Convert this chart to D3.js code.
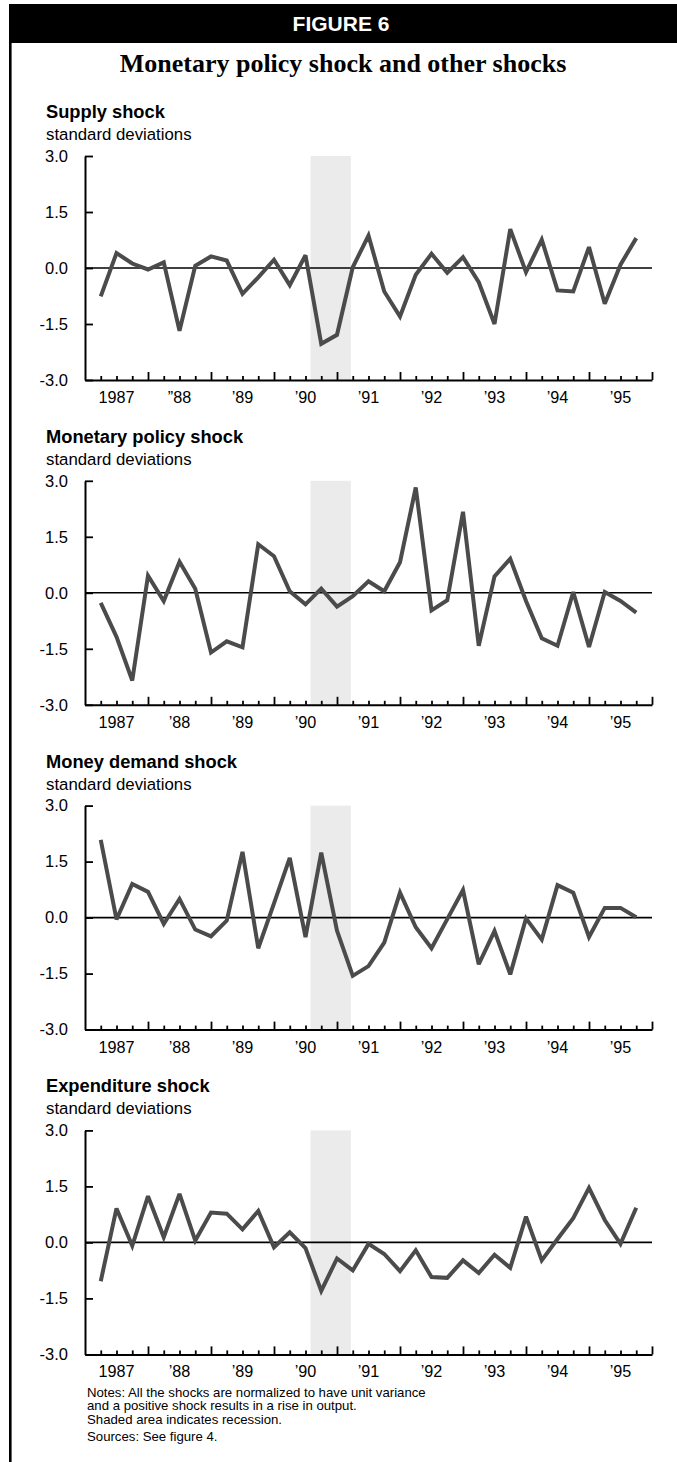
<!DOCTYPE html>
<html>
<head>
<meta charset="utf-8">
<script src="https://cdn.jsdelivr.net/npm/d3@7"></script>
<style>
  html, body { margin: 0; padding: 0; background: #fff; }
  svg { display: block; }
</style>
</head>
<body>
<svg id="chart" width="677" height="1462"></svg>
<script>
// Quarterly shocks, 1987:Q1 - 1995:Q3, in standard deviations
const startYear = 1987;
const nQuarters = 35;

const supplyShock = [-0.76, 0.40, 0.12, -0.04, 0.15, -1.68, 0.06, 0.31, 0.20, -0.69,
  -0.25, 0.22, -0.46, 0.34, -2.03, -1.79, 0.02, 0.87, -0.63, -1.30,
  -0.18, 0.38, -0.13, 0.29, -0.38, -1.50, 1.04, -0.11, 0.76, -0.60,
  -0.63, 0.56, -0.96, 0.09, 0.80];

const monetaryShock = [-0.27, -1.18, -2.35, 0.46, -0.22, 0.83, 0.11, -1.60, -1.30, -1.46,
  1.30, 0.98, 0.04, -0.31, 0.11, -0.37, -0.09, 0.31, 0.04, 0.82,
  2.82, -0.47, -0.20, 2.17, -1.42, 0.44, 0.91, -0.22, -1.22, -1.42,
  0.02, -1.45, 0.02, -0.22, -0.53];

const moneyDemandShock = [2.08, -0.05, 0.90, 0.69, -0.17, 0.50, -0.32, -0.50, -0.08, 1.76,
  -0.82, 0.38, 1.60, -0.52, 1.74, -0.35, -1.56, -1.30, -0.67, 0.67,
  -0.26, -0.82, -0.04, 0.74, -1.25, -0.36, -1.52, -0.02, -0.59, 0.87,
  0.67, -0.52, 0.26, 0.26, 0.01];

const expenditureShock = [-1.04, 0.91, -0.09, 1.24, 0.14, 1.30, 0.05, 0.80, 0.77, 0.35,
  0.84, -0.13, 0.27, -0.15, -1.30, -0.43, -0.75, -0.04, -0.31, -0.77,
  -0.21, -0.93, -0.95, -0.48, -0.82, -0.33, -0.68, 0.69, -0.48, 0.09,
  0.65, 1.46, 0.60, -0.04, 0.93];

const panelTitles = ["Supply shock", "Monetary policy shock", "Money demand shock", "Expenditure shock"];
const panelSeries = [supplyShock, monetaryShock, moneyDemandShock, expenditureShock];
const unitLabel = "standard deviations";

const yTicks = [3.0, 1.5, 0.0, -1.5, -3.0];
const years = [1987, 1988, 1989, 1990, 1991, 1992, 1993, 1994, 1995];
const yearLabels = ["1987", "\u201988", "\u201989", "\u201990", "\u201991", "\u201992", "\u201993", "\u201994", "\u201995"];
const yearLabelsFirstPanel = ["1987", "\u201D88", "\u201989", "\u201990", "\u201991", "\u201992", "\u201993", "\u201994", "\u201995"];

// NBER recession, July 1990 - March 1991
const recession = [1990.58, 1991.22];

const figureLabel = "FIGURE 6";
const figureTitle = "Monetary policy shock and other shocks";
const notes = [
  "Notes: All the shocks are normalized to have unit variance",
  "and a positive shock results in a rise in output.",
  "Shaded area indicates recession."
];
const sources = "Sources: See figure 4.";

// ---------------------------------------------------------------
const svg = d3.select("#chart");
const SANS = "'Liberation Sans', Arial, Helvetica, sans-serif";
const SERIF = "'Liberation Serif', 'Times New Roman', serif";
const LINE_COLOR = "#4b4b4b";

// frame: header band and left rule
svg.append("rect").attr("x", 9).attr("y", 4).attr("width", 668).attr("height", 39).attr("fill", "#000");
svg.append("rect").attr("x", 9).attr("y", 4).attr("width", 2.6).attr("height", 1458).attr("fill", "#000");

svg.append("text")
  .attr("x", 341).attr("y", 31)
  .attr("text-anchor", "middle")
  .attr("fill", "#fff")
  .style("font-family", SANS).style("font-weight", "bold").style("font-size", "21px")
  .text(figureLabel);

svg.append("text")
  .attr("x", 343).attr("y", 72)
  .attr("text-anchor", "middle")
  .attr("fill", "#000")
  .style("font-family", SERIF).style("font-weight", "bold").style("font-size", "26px")
  .text(figureTitle);

const x = d3.scaleLinear().domain([1987, 1996]).range([85, 652]);
const quarterPos = d3.range(1, nQuarters + 1).map(i => startYear + i * 0.25);

const panelTop = [156, 480.8, 805.6, 1130.4];
const plotH = 224;

panelSeries.forEach((series, k) => {
  const top = panelTop[k];
  const bottom = top + plotH;
  const y = d3.scaleLinear().domain([-3, 3]).range([bottom, top]);
  const g = svg.append("g");

  // titles
  g.append("text")
    .attr("x", 46).attr("y", top - 38)
    .style("font-family", SANS).style("font-weight", "bold").style("font-size", "18.3px")
    .attr("fill", "#000")
    .text(panelTitles[k]);
  g.append("text")
    .attr("x", 46).attr("y", top - 16)
    .style("font-family", SANS).style("font-size", "16.8px")
    .attr("fill", "#000")
    .text(unitLabel);

  // recession shading
  g.append("rect")
    .attr("x", x(recession[0]))
    .attr("y", top)
    .attr("width", x(recession[1]) - x(recession[0]))
    .attr("height", plotH)
    .attr("fill", "#ebebeb");

  // y axis: ticks drawn inward
  const yAxis = d3.axisLeft(y).tickValues(yTicks).tickSizeInner(-8).tickSizeOuter(0)
    .tickFormat(d3.format(".1f")).tickPadding(17);
  const ya = g.append("g").attr("transform", `translate(${x(1987)},0)`).call(yAxis);
  ya.select(".domain").attr("stroke", "#000").attr("stroke-width", 2);
  ya.selectAll(".tick line").attr("stroke", "#000").attr("stroke-width", 1.8);
  ya.selectAll(".tick text")
    .style("font-family", SANS).style("font-size", "16.5px").attr("fill", "#000")
    .text(d => d3.format(".1f")(d).replace("\u2212", "-"));

  // zero line
  g.append("line")
    .attr("x1", x(1987)).attr("x2", x(1996))
    .attr("y1", y(0)).attr("y2", y(0))
    .attr("stroke", "#000").attr("stroke-width", 1.6);

  // x axis: quarterly minor ticks, yearly major ticks, labels mid-year
  const minor = d3.axisTop(x).tickValues(d3.range(1987.25, 1996, 0.25).filter(v => Math.abs(v - Math.round(v)) > 1e-6))
    .tickSize(4).tickFormat("");
  const major = d3.axisTop(x).tickValues(d3.range(1988, 1997, 1)).tickSize(8).tickSizeOuter(0).tickFormat("");
  const xm = g.append("g").attr("transform", `translate(0,${bottom})`).call(minor);
  xm.select(".domain").remove();
  xm.selectAll(".tick line").attr("stroke", "#000").attr("stroke-width", 1.8);
  const xM = g.append("g").attr("transform", `translate(0,${bottom})`).call(major);
  xM.select(".domain").attr("stroke", "#000").attr("stroke-width", 2);
  xM.selectAll(".tick line").attr("stroke", "#000").attr("stroke-width", 1.8);

  const labels = k === 0 ? yearLabelsFirstPanel : yearLabels;
  g.selectAll("text.year")
    .data(years)
    .join("text")
    .attr("class", "year")
    .attr("x", d => x(d + 0.5))
    .attr("y", bottom + 23)
    .attr("text-anchor", "middle")
    .style("font-family", SANS).style("font-size", "16.2px")
    .attr("fill", "#000")
    .text((d, i) => labels[i]);

  // series line
  const line = d3.line()
    .x((d, i) => x(quarterPos[i]))
    .y(d => y(d));
  g.append("path")
    .datum(series)
    .attr("d", line)
    .attr("fill", "none")
    .attr("stroke", LINE_COLOR)
    .attr("stroke-width", 4)
    .attr("stroke-linejoin", "miter")
    .attr("stroke-miterlimit", 3);
});

// notes
const noteG = svg.append("g")
  .style("font-family", SANS).style("font-size", "13.2px").attr("fill", "#000");
notes.forEach((t, i) => {
  noteG.append("text").attr("x", 87).attr("y", 1397 + i * 13.4).text(t);
});
noteG.append("text").attr("x", 87).attr("y", 1441).text(sources);
</script>
</body>
</html>
